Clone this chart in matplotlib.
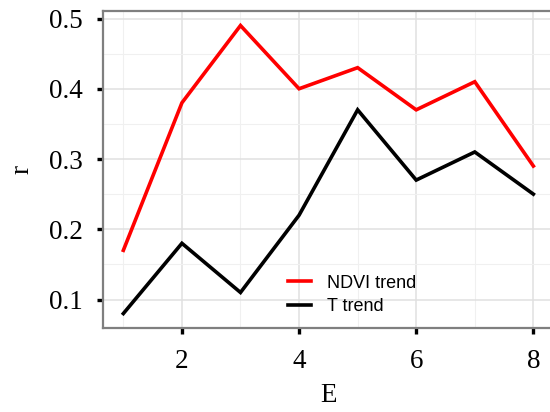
import matplotlib.pyplot as plt
from matplotlib.ticker import MultipleLocator

E = [1, 2, 3, 4, 5, 6, 7, 8]
ndvi_trend = [0.17, 0.38, 0.49, 0.40, 0.43, 0.37, 0.41, 0.29]
t_trend = [0.08, 0.18, 0.11, 0.22, 0.37, 0.27, 0.31, 0.25]

fig = plt.figure(figsize=(5.5, 4.12), dpi=100)
# panel runs slightly past the right edge, as in the original export
ax = fig.add_axes([0.187, 0.204, 0.82, 0.769])

ax.plot(E, ndvi_trend, color='#FF0000', lw=2.6, label='NDVI trend', solid_joinstyle='miter')
ax.plot(E, t_trend, color='black', lw=2.6, label='T trend', solid_joinstyle='miter')

ax.set_xlim(0.65, 8.35)
ax.set_ylim(0.0595, 0.5105)
ax.xaxis.set_major_locator(MultipleLocator(2))
ax.xaxis.set_minor_locator(MultipleLocator(1))
ax.yaxis.set_major_locator(MultipleLocator(0.1))
ax.yaxis.set_minor_locator(MultipleLocator(0.05))
ax.grid(True, which='major', color='#E0E0E0', lw=1.1)
ax.grid(True, which='minor', color='#F0F0F0', lw=0.8)
ax.set_axisbelow(True)

for s in ax.spines.values():
    s.set_color('#7F7F7F')
    s.set_linewidth(1.6)

serif = ['Liberation Serif', 'DejaVu Serif']
ax.tick_params(which='major', length=4.5, width=2.4, color='black', labelsize=19.5)
ax.tick_params(axis='x', pad=11)
ax.tick_params(axis='y', pad=10)
ax.tick_params(which='minor', length=0)
ax.set_xticks([2, 4, 6, 8])
ax.set_xticklabels(['2', '4', '6', '8'], family=serif)
ax.set_yticks([0.1, 0.2, 0.3, 0.4, 0.5])
ax.set_yticklabels(['0.1', '0.2', '0.3', '0.4', '0.5'], family=serif)

ax.set_xlabel('E', family=serif, fontsize=19.5, labelpad=6)
ax.set_ylabel('r', family=serif, fontsize=19.5, labelpad=10)

leg = ax.legend(loc='lower left', bbox_to_anchor=(0.375, -0.01), frameon=False,
                prop={'family': ['Liberation Sans', 'DejaVu Sans'], 'size': 13},
                handlelength=1.25, handletextpad=0.9, labelspacing=0.35)

fig.savefig('out.png', dpi=100)
